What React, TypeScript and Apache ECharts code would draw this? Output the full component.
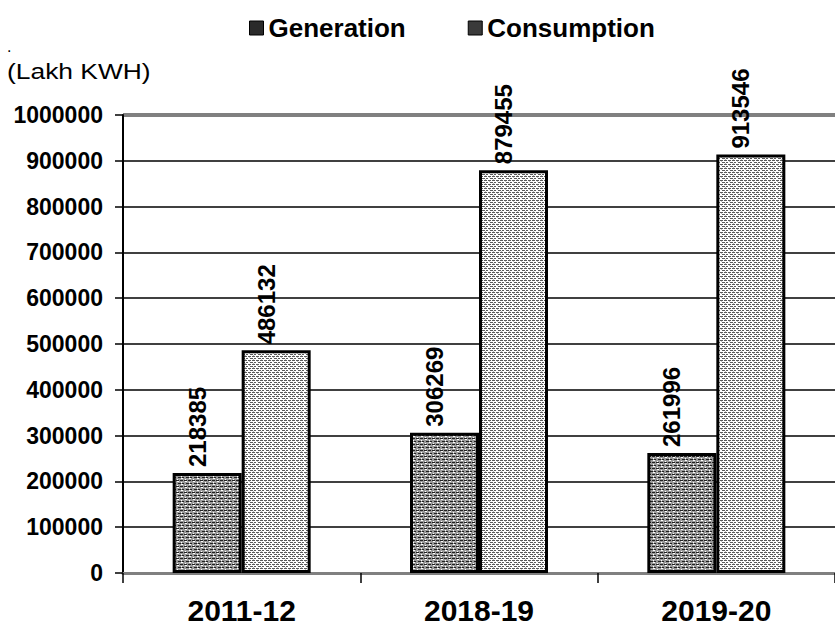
import React, { useEffect, useRef } from "react";
import * as echarts from "echarts";

const categories = ["2011-12", "2018-19", "2019-20"];
const generation = [218385, 306269, 261996];
const consumption = [486132, 879455, 913546];
const seriesNames = ["Generation", "Consumption"];
const unitLabel = "(Lakh KWH)";
const yMin = 0;
const yMax = 1000000;
const yStep = 100000;

function makeGenPattern(): HTMLCanvasElement {
  const c = document.createElement("canvas");
  c.width = 8;
  c.height = 6;
  const ctx = c.getContext("2d")!;
  ctx.fillStyle = "#9a9a9a";
  ctx.fillRect(0, 0, 8, 6);
  ctx.fillStyle = "#222222";
  ctx.fillRect(0, 0, 3, 1);
  ctx.fillRect(4, 0, 3, 1);
  ctx.fillRect(2, 3, 3, 1);
  ctx.fillRect(6, 3, 2, 1);
  ctx.fillStyle = "#ffffff";
  ctx.fillRect(1, 1, 2, 1);
  ctx.fillRect(5, 2, 1, 1);
  ctx.fillRect(5, 4, 2, 1);
  ctx.fillRect(1, 5, 1, 1);
  return c;
}

function makeConsPattern(): HTMLCanvasElement {
  const c = document.createElement("canvas");
  c.width = 8;
  c.height = 4;
  const ctx = c.getContext("2d")!;
  ctx.fillStyle = "#ffffff";
  ctx.fillRect(0, 0, 8, 4);
  ctx.fillStyle = "#5a5a5a";
  ctx.fillRect(0, 0, 3, 1);
  ctx.fillRect(4, 0, 3, 1);
  ctx.fillRect(2, 2, 3, 1);
  ctx.fillRect(6, 2, 2, 1);
  ctx.fillStyle = "#bdbdbd";
  ctx.fillRect(1, 1, 1, 1);
  ctx.fillRect(5, 3, 1, 1);
  return c;
}

export default function App() {
  const ref = useRef<HTMLDivElement>(null);
  useEffect(() => {
    if (!ref.current) return;
    const chart = echarts.init(ref.current, null, { renderer: "svg" });
    const genColor = { image: makeGenPattern(), repeat: "repeat" } as any;
    const consColor = { image: makeConsPattern(), repeat: "repeat" } as any;
    const font = "'Liberation Sans', Arial, sans-serif";
    const labelCfg = {
      show: true,
      position: "top",
      rotate: 90,
      align: "left",
      verticalAlign: "middle",
      distance: 6,
      offset: [0, -10],
      fontFamily: font,
      fontWeight: "bold",
      fontSize: 24,
      color: "#000",
    };
    const option: any = {
      animation: false,
      backgroundColor: "#ffffff",
      grid: { left: 123, right: -13, top: 115, bottom: 58, containLabel: false },
      legend: {
        data: [
          { name: seriesNames[0], itemStyle: { color: "#2a2a2a", borderColor: "#000", borderWidth: 1 } },
          { name: seriesNames[1], itemStyle: { color: "#3a3a3a", borderColor: "#000", borderWidth: 1 } },
        ],
        left: 244,
        top: 10,
        itemWidth: 14,
        itemHeight: 14,
        itemGap: 62,
        icon: "rect",
        textStyle: {
          fontFamily: font,
          fontWeight: "bold",
          fontSize: 26,
          color: "#000",
        },
      },
      graphic: [
        {
          type: "text",
          left: 7,
          top: 38,
          style: { text: ".", fontSize: 16, fill: "#000", fontFamily: font },
        },
        {
          type: "text",
          x: 7,
          y: 60,
          scaleX: 1.2,
          style: {
            text: unitLabel,
            fontSize: 22,
            fill: "#000",
            fontFamily: font,
          },
        },
      ],
      xAxis: {
        type: "category",
        data: categories,
        boundaryGap: true,
        axisLine: { show: true, lineStyle: { color: "#808080", width: 3 } },
        axisTick: { show: true, length: 10, lineStyle: { color: "#000", width: 1.5 } },
        axisLabel: {
          margin: 22,
          fontFamily: font,
          fontWeight: "bold",
          fontSize: 30,
          color: "#000",
        },
        splitLine: { show: false },
      },
      yAxis: {
        type: "value",
        min: yMin,
        max: yMax,
        interval: yStep,
        axisLine: { show: true, lineStyle: { color: "#000", width: 2 } },
        axisTick: { show: true, length: 8, lineStyle: { color: "#000", width: 1.5 } },
        axisLabel: {
          margin: 20,
          formatter: (v: number) => String(v),
          fontFamily: font,
          fontWeight: "bold",
          fontSize: 23,
          color: "#000",
        },
        splitLine: { show: true, lineStyle: { color: "#000", width: 1.5 } },
      },
      series: [
        {
          name: seriesNames[0],
          type: "bar",
          data: generation,
          barWidth: 69,
          barGap: "0%",
          itemStyle: { color: genColor, borderColor: "#000", borderWidth: 3 },
          label: labelCfg,
          markLine: {
            silent: true,
            z: 0,
            symbol: "none",
            label: { show: false },
            lineStyle: { color: "#808080", width: 4, type: "solid" },
            data: [{ yAxis: yMax }],
          },
        },
        {
          name: seriesNames[1],
          type: "bar",
          data: consumption,
          barWidth: 69,
          barGap: "0%",
          itemStyle: { color: consColor, borderColor: "#000", borderWidth: 3 },
          label: labelCfg,
        },
      ],
    };
    chart.setOption(option);
    return () => chart.dispose();
  }, []);
  return <div ref={ref} style={{ width: 835, height: 631, position: "absolute", left: 0, top: 0 }} />;
}
